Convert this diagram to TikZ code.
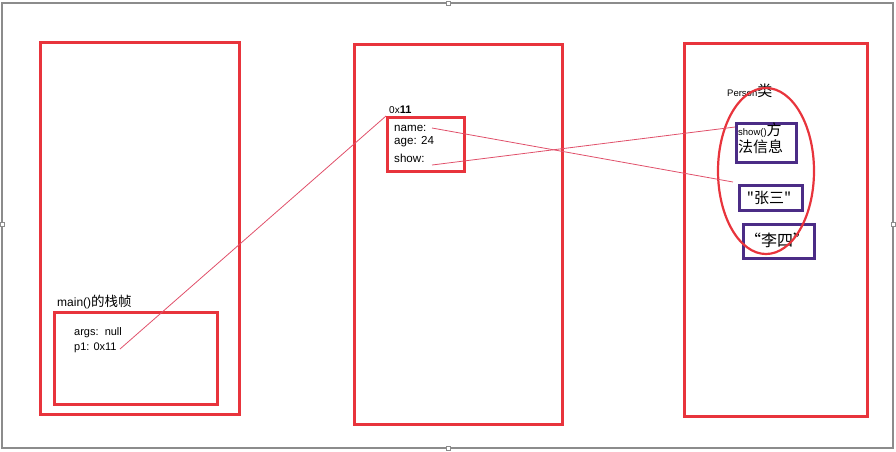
\documentclass[tikz,border=0pt]{standalone}
\usepackage{fontspec}
\setmainfont{Liberation Sans}
\newfontfamily\cjk{Noto Sans CJK SC}
\usetikzlibrary{shapes.geometric}
\definecolor{memred}{HTML}{E8343C}
\definecolor{linkred}{HTML}{E0506A}
\definecolor{classpurple}{HTML}{4B2C86}
\definecolor{framegray}{HTML}{8C8C8C}

\begin{document}
\begin{tikzpicture}[x=1pt, y=-1pt,
  areabox/.style={draw=memred, line width=2.8pt, anchor=north west, inner sep=0pt},
  infobox/.style={draw=classpurple, line width=2.8pt, anchor=north west, inner sep=0pt},
  link/.style={draw=linkred, line width=0.8pt},
  txt/.style={anchor=west, inner sep=0pt, font=\fontsize{11}{13}\selectfont},
  handle/.style={draw=framegray, fill=white, line width=0.8pt, minimum size=4pt, inner sep=0pt}]
\useasboundingbox (0,0) rectangle (896,451);
% outer frame
\draw[framegray, line width=1.2pt] (2,3) rectangle (893,448);
\node[handle] (htop) at (448,3) {};
\node[handle] (hbottom) at (448,448) {};
\node[handle] (hleft) at (2,224) {};
\node[handle] (hright) at (893,224) {};

% stack
\node[areabox, minimum width=199pt, minimum height=372pt] (stack) at (39,41) {};
\node[txt, font=\fontsize{12}{14}\selectfont] (framelabel) at (57,302) {main(){\cjk\fontsize{13.5}{15}\selectfont 的栈帧}};
\node[areabox, minimum width=163pt, minimum height=92pt] (mainframe) at (53,311) {};
\node[txt] (args) at (74,333) {args:\ \ null};
\node[txt] (p1) at (74,348) {p1: 0x11};

% heap
\node[areabox, minimum width=208pt, minimum height=380pt] (heap) at (353,43) {};
\node[txt] (addr) at (389,110) {{\fontsize{10}{12}\selectfont 0x}\textbf{11}};
\node[areabox, minimum width=77pt, minimum height=54pt] (obj) at (386,116) {};
\node[txt, font=\fontsize{11.6}{13}\selectfont] (name) at (394,128) {name:};
\node[txt, font=\fontsize{11.6}{13}\selectfont] (age) at (394,142) {age: 24};
\node[txt, font=\fontsize{11.6}{13}\selectfont] (show) at (394,158) {show:};

% method area
\node[areabox, minimum width=183pt, minimum height=373pt] (methods) at (683,42) {};
\node[txt, font=\fontsize{9.5}{11}\selectfont] (classlabel) at (727,91) {Person{\cjk\fontsize{15}{17}\selectfont 类}};
\node[infobox, minimum width=60pt, minimum height=39pt] (showinfo) at (735,122) {};
\node[anchor=north west, inner sep=0pt, align=left, font=\cjk\fontsize{15}{17}\selectfont] (showtext) at (738,123)
  {{\rmfamily\fontsize{9.5}{11}\selectfont show()}方\\法信息};
\node[infobox, minimum width=63pt, minimum height=25pt] (zhangsan) at (738,184) {};
\node[font=\cjk\fontsize{15}{17}\selectfont, inner sep=0pt] (zhangtext) at (769,198) {"张三"};
\node[infobox, minimum width=71pt, minimum height=34pt] (lisi) at (742,223) {};
\node[font=\cjk\fontsize{16}{18}\selectfont, inner sep=0pt] (litext) at (777,240) {“李四”};
\node[draw=memred, line width=2.2pt, ellipse, minimum width=96pt, minimum height=166pt, inner sep=0pt] (person) at (766,171) {};

% references
\coordinate (p1out) at (120,349);
\coordinate (nameout) at (432,128);
\coordinate (showout) at (432,165);
\coordinate (zhangin) at (733,182);
\draw[link] (p1out) -- (obj.north west);
\draw[link] (nameout) -- (zhangin);
\draw[link] (showout) -- ([yshift=-5pt]showinfo.north west);
\end{tikzpicture}
\end{document}
